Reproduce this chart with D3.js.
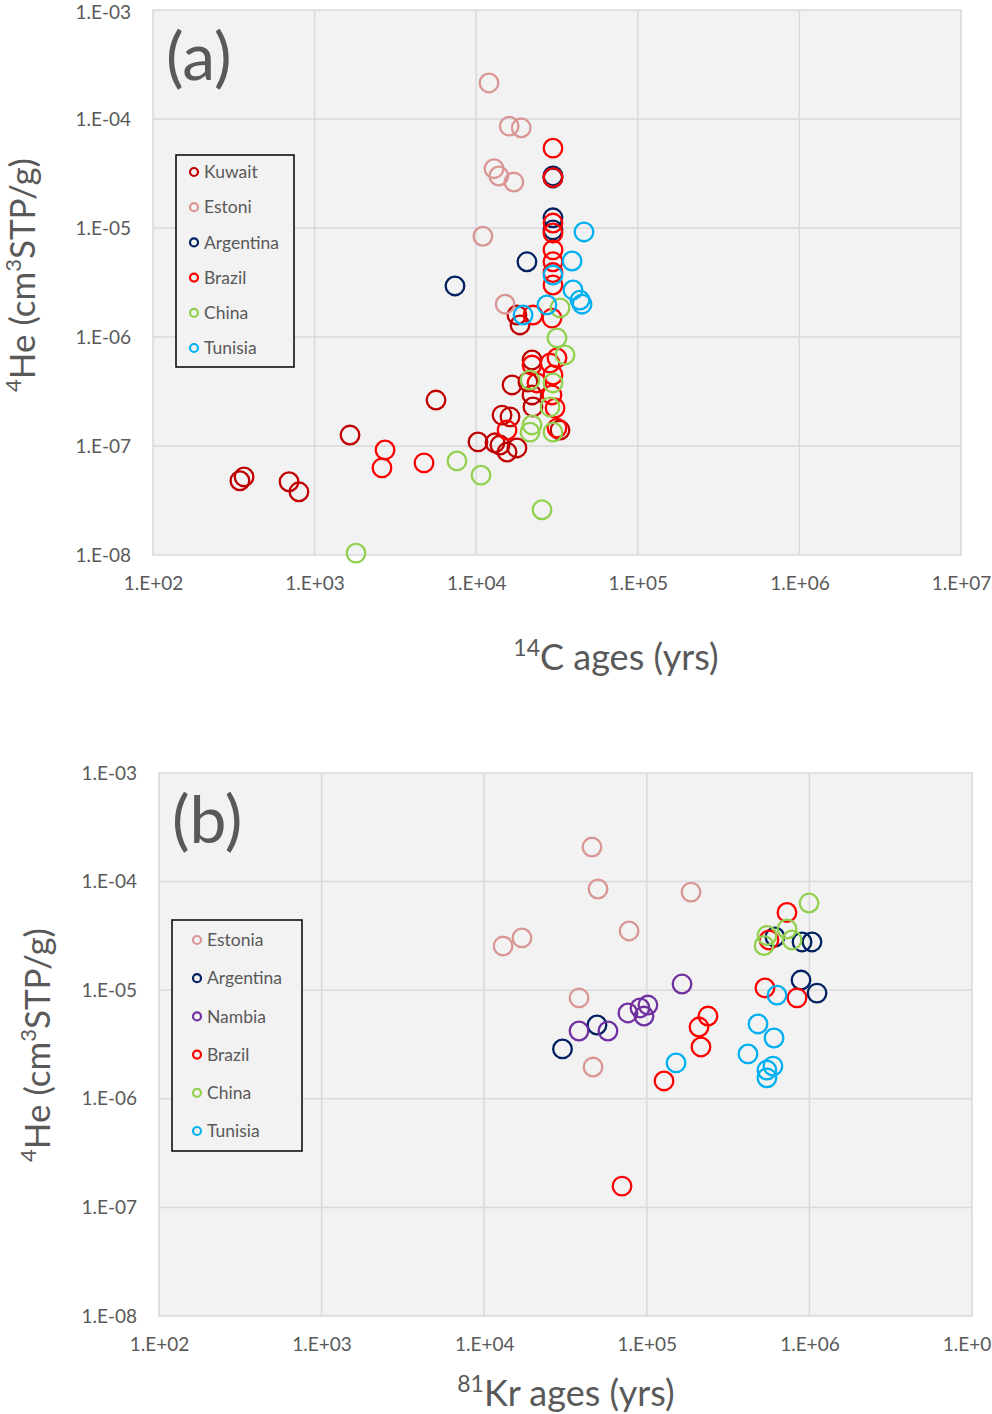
<!doctype html>
<html>
<head>
<meta charset="utf-8">
<style>
body { margin: 0; background: #fff; }
text { font-family: Lato, "Open Sans", sans-serif; fill: #595959; }
</style>
<script src="https://d3js.org/d3.v7.min.js"></script>
</head>
<body>
<svg width="992" height="1414"></svg>
<script>
// panel (a): 14C ages vs 4He, [age yrs, 4He cm3STP/g]
var a_kuwait = [[345,4.8e-8],[366,5.2e-8],[695,4.7e-8],[800,3.8e-8],[1656,1.26e-7],[5640,2.64e-7],
	[10260,1.09e-7],[13070,1.07e-7],[14030,1.02e-7],[15520,8.8e-8],[17870,9.6e-8],[14450,1.92e-7],
	[16190,1.85e-7],[22450,2.28e-7],[22150,2.94e-7],[16670,3.63e-7],[20900,3.87e-7],[22150,6.15e-7],
	[33000,1.40e-7],[17870,1.59e-6],[18670,1.29e-6]];
var a_estoni = [[12000,2.14e-4],[16000,8.6e-5],[19000,8.3e-5],[12900,3.5e-5],[13800,3.0e-5],
	[17100,2.64e-5],[11000,8.4e-6],[15100,2.0e-6]];
var a_argentina = [[29860,3.0e-5],[29860,2.88e-5],[29860,1.24e-5],[29860,9.6e-6],[20610,4.9e-6],[7390,2.94e-6]];
var a_brazil = [[2612,6.3e-8],[2728,9.2e-8],[4753,7.0e-8],[29860,5.4e-5],[29860,2.9e-5],[29860,1.11e-5],
	[29860,9.0e-6],[29860,6.3e-6],[29860,4.9e-6],[29860,3.9e-6],[29860,3.0e-6],[22450,1.59e-6],
	[29440,1.49e-6],[22150,5.53e-7],[28630,5.77e-7],[31620,6.42e-7],[23790,3.79e-7],[29860,4.48e-7],
	[29440,2.94e-7],[30760,2.23e-7],[31620,1.46e-7],[15520,1.40e-7]];
var a_china = [[1804,1.04e-8],[7600,7.3e-8],[10710,5.4e-8],[25530,2.6e-8],[21530,1.34e-7],[22150,1.56e-7],
	[29860,1.34e-7],[28630,2.28e-7],[29860,3.79e-7],[21530,4.03e-7],[35450,6.84e-7],[31620,9.8e-7],
	[33000,1.85e-6]];
var a_tunisia = [[46450,9.2e-6],[39200,4.98e-6],[29860,3.7e-6],[39700,2.7e-6],[43900,2.18e-6],
	[45200,2.0e-6],[27400,1.97e-6],[19500,1.59e-6]];

// panel (b): 81Kr ages vs 4He
var b_estonia = [[46000,2.08e-4],[50100,8.55e-5],[187000,8.0e-5],[77800,3.51e-5],[13060,2.55e-5],
	[17070,3.03e-5],[38300,8.5e-6],[46700,1.96e-6]];
var b_argentina = [[30300,2.88e-6],[49400,4.78e-6],[614000,3.09e-5],[901000,2.78e-5],[1037000,2.78e-5],
	[888000,1.24e-5],[1114000,9.4e-6]];
var b_nambia = [[164700,1.14e-5],[38300,4.21e-6],[57700,4.21e-6],[76600,6.17e-6],[90800,6.86e-6],
	[101600,7.3e-6],[96100,5.78e-6]];
var b_brazil = [[237800,5.78e-6],[209400,4.58e-6],[215400,3.0e-6],[127600,1.46e-6],[70400,1.57e-7],
	[728000,5.2e-5],[564000,2.9e-5],[533000,1.05e-5],[839000,8.5e-6]];
var b_china = [[995000,6.35e-5],[728000,3.66e-5],[782000,2.9e-5],[548000,3.19e-5],[526000,2.58e-5]];
var b_tunisia = [[632000,9.0e-6],[151300,2.14e-6],[483000,4.89e-6],[606000,3.63e-6],[419000,2.59e-6],
	[597000,2.0e-6],[548000,1.84e-6],[548000,1.56e-6]];

var xTicks = [1e2, 1e3, 1e4, 1e5, 1e6, 1e7];
var yTicks = [1e-8, 1e-7, 1e-6, 1e-5, 1e-4, 1e-3];

var col = {kuwait: "#c00000", estonia: "#d99694", argentina: "#002060", brazil: "#ff0000",
	china: "#92d050", tunisia: "#00b0f0", nambia: "#7030a0"};

var svg = d3.select("svg");

function fmt(d) {
	var e = Math.round(Math.log10(d));
	return "1.E" + (e < 0 ? "-" : "+") + String(Math.abs(e)).padStart(2, "0");
}

function panel(cfg) {
	var x = d3.scaleLog().domain([1e2, 1e7]).range([cfg.left, cfg.right]);
	var y = d3.scaleLog().domain([1e-8, 1e-3]).range([cfg.bottom, cfg.top]);

	svg.append("rect").attr("x", cfg.left).attr("y", cfg.top)
		.attr("width", cfg.right - cfg.left).attr("height", cfg.bottom - cfg.top)
		.attr("fill", "#f2f2f2").attr("stroke", "#d9d9d9").attr("stroke-width", 1.5);

	// grid
	var g = svg.append("g");
	g.selectAll(".vx").data(xTicks.slice(1, -1)).enter().append("line")
		.attr("x1", x).attr("x2", x).attr("y1", cfg.top).attr("y2", cfg.bottom)
		.attr("stroke", "#d9d9d9").attr("stroke-width", 1.5);
	g.selectAll(".hy").data(yTicks.slice(1, -1)).enter().append("line")
		.attr("y1", y).attr("y2", y).attr("x1", cfg.left).attr("x2", cfg.right)
		.attr("stroke", "#d9d9d9").attr("stroke-width", 1.5);

	// axes
	var xa = svg.append("g").attr("transform", "translate(0," + cfg.bottom + ")")
		.call(d3.axisBottom(x).tickValues(xTicks).tickFormat(fmt).tickSize(0).tickPadding(22));
	var ya = svg.append("g").attr("transform", "translate(" + cfg.left + ",0)")
		.call(d3.axisLeft(y).tickValues(yTicks).tickFormat(fmt).tickSize(0).tickPadding(22));
	[xa, ya].forEach(function(a) {
		a.select(".domain").remove();
		a.selectAll("text").attr("font-size", 19).attr("fill", "#595959")
			.attr("font-family", "Lato, sans-serif");
	});
	// keep the top label inside the page
	if (cfg.top < 15)
		ya.selectAll(".tick").filter(function(d) { return d === 1e-3; })
			.select("text").attr("dy", "0.45em");

	// points
	cfg.series.forEach(function(s) {
		svg.append("g").selectAll("circle").data(s.data).enter().append("circle")
			.attr("cx", function(d) { return x(d[0]); })
			.attr("cy", function(d) { return y(d[1]); })
			.attr("r", 9.3).attr("fill", "none")
			.attr("stroke", s.color).attr("stroke-width", 2.3);
	});

	// panel letter
	svg.append("text").attr("x", cfg.left + 13).attr("y", cfg.top + 70)
		.attr("font-size", 66).text(cfg.letter);

	// legend
	var L = cfg.legend;
	svg.append("rect").attr("x", L.x).attr("y", L.y).attr("width", L.w).attr("height", L.h)
		.attr("fill", "#f2f2f2").attr("stroke", "#000").attr("stroke-width", 1.5);
	cfg.series.forEach(function(s, i) {
		var cy = L.y + L.first + i * L.step;
		svg.append("circle").attr("cx", L.x + L.mx).attr("cy", cy).attr("r", 4)
			.attr("fill", "none").attr("stroke", s.color).attr("stroke-width", 2.2);
		svg.append("text").attr("x", L.x + L.mx + 10).attr("y", cy).attr("dy", "0.35em")
			.attr("font-size", 17.5).text(s.name);
	});

	// axis titles
	var xt = svg.append("text").attr("x", cfg.xtx).attr("y", cfg.xty)
		.attr("text-anchor", "middle").attr("font-size", 36);
	xt.append("tspan").attr("font-size", 23).attr("dy", -14).text(cfg.xsup);
	xt.append("tspan").attr("dy", 14).text(cfg.xlabel);

	var yt = svg.append("text").attr("transform", "translate(" + cfg.ytx + "," + cfg.yty + ") rotate(-90)")
		.attr("text-anchor", "middle").attr("font-size", 35);
	yt.append("tspan").attr("font-size", 22).attr("dy", -14).text("4");
	yt.append("tspan").attr("dy", 14).text("He (cm");
	yt.append("tspan").attr("font-size", 22).attr("dy", -14).text("3");
	yt.append("tspan").attr("dy", 14).text("STP/g)");
}

panel({
	left: 153, right: 961, top: 10, bottom: 555, letter: "(a)",
	xsup: "14", xlabel: "C ages (yrs)", xtx: 616, xty: 670, ytx: 35, yty: 275,
	legend: {x: 176, y: 155, w: 118, h: 212, mx: 18, first: 17, step: 35.2},
	series: [
		{name: "Kuwait", color: col.kuwait, data: a_kuwait},
		{name: "Estoni", color: col.estonia, data: a_estoni},
		{name: "Argentina", color: col.argentina, data: a_argentina},
		{name: "Brazil", color: col.brazil, data: a_brazil},
		{name: "China", color: col.china, data: a_china},
		{name: "Tunisia", color: col.tunisia, data: a_tunisia}
	]
});

panel({
	left: 159, right: 972, top: 773, bottom: 1316, letter: "(b)",
	xsup: "81", xlabel: "Kr ages (yrs)", xtx: 566, xty: 1406, ytx: 50, yty: 1045,
	legend: {x: 172, y: 920, w: 130, h: 231, mx: 25, first: 20, step: 38.2},
	series: [
		{name: "Estonia", color: col.estonia, data: b_estonia},
		{name: "Argentina", color: col.argentina, data: b_argentina},
		{name: "Nambia", color: col.nambia, data: b_nambia},
		{name: "Brazil", color: col.brazil, data: b_brazil},
		{name: "China", color: col.china, data: b_china},
		{name: "Tunisia", color: col.tunisia, data: b_tunisia}
	]
});
</script>
</body>
</html>
